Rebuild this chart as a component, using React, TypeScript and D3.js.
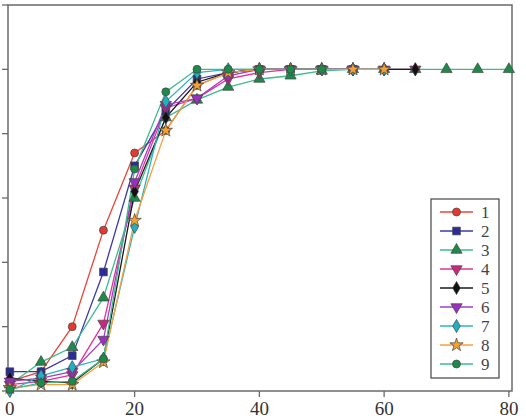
import React, { useEffect, useRef } from "react";
import * as d3 from "d3";

// x positions of samples
const xValues = [0, 5, 10, 15, 20, 25, 30, 35, 40, 45, 50, 55, 60, 65, 70, 75, 80];

const seriesNames = ["1", "2", "3", "4", "5", "6", "7", "8", "9"];

const s1 = [0.03, 0.06, 0.2, 0.5, 0.74, 0.81, 0.95, 0.99, 1.0, 1.0, 1.0, 1.0];
const s2 = [0.06, 0.06, 0.11, 0.37, 0.7, 0.87, 0.97, 0.99, 1.0, 1.0, 1.0, 1.0];
const s3 = [0.02, 0.09, 0.136, 0.29, 0.6, 0.85, 0.905, 0.945, 0.97, 0.98, 0.995, 1.0, 1.0, 1.0, 1.0, 1.0, 1.0];
const s4 = [0.02, 0.03, 0.05, 0.21, 0.63, 0.88, 0.91, 0.97, 0.99, 1.0, 1.0, 1.0, 1.0, 1.0];
const s5 = [0.04, 0.03, 0.025, 0.1, 0.62, 0.85, 0.96, 0.99, 1.0, 1.0, 1.0, 1.0, 1.0, 1.0];
const s6 = [0.03, 0.04, 0.06, 0.16, 0.65, 0.89, 0.91, 0.98, 1.0, 1.0, 1.0, 1.0];
const s7 = [0.0, 0.047, 0.074, 0.1, 0.51, 0.9, 0.99, 1.0, 1.0, 1.0, 1.0, 1.0, 1.0];
const s8 = [0.01, 0.02, 0.02, 0.09, 0.53, 0.81, 0.95, 0.99, 1.0, 1.0, 1.0, 1.0, 1.0];
const s9 = [0.005, 0.025, 0.03, 0.1, 0.69, 0.93, 1.0, 1.0, 1.0, 1.0, 1.0];

const allSeries = [s1, s2, s3, s4, s5, s6, s7, s8, s9];

const xTicks = [0, 20, 40, 60, 80];
const yTicks = [0, 0.2, 0.4, 0.6, 0.8, 1.0, 1.2];

const lineColors = ["#e8463c", "#3a3aa8", "#3dbb8c", "#e0329a", "#1a1a1a", "#a83cc8", "#2bb5c4", "#f5a040", "#3dbb8c"];
const fillColors = ["#e03a32", "#2c2c98", "#1e8a4a", "#c8287e", "#111111", "#9b2fc0", "#20b0c0", "#f5a030", "#1e8a4a"];
const symbols = [d3.symbolCircle, d3.symbolSquare, d3.symbolTriangle, d3.symbolTriangle, d3.symbolDiamond, d3.symbolTriangle, d3.symbolDiamond, d3.symbolStar, d3.symbolCircle];
const flipped = [false, false, false, true, false, true, false, false, false];
const sizes = [50, 60, 55, 55, 50, 55, 50, 55, 50];

export default function App() {
  const ref = useRef<SVGSVGElement>(null);

  useEffect(() => {
    const svg = d3.select(ref.current);
    svg.selectAll("*").remove();

    const left = 8, right = 512, top = 5, bottom = 391;

    const x = d3.scaleLinear().domain([-0.3, 80.5]).range([left, right]);
    const y = d3.scaleLinear().domain([0, 1.2]).range([bottom, top]);

    const axisColor = "#6a6a6a";

    // frame
    svg.append("rect")
      .attr("x", left).attr("y", top)
      .attr("width", right - left).attr("height", bottom - top)
      .attr("fill", "none")
      .attr("stroke", axisColor)
      .attr("stroke-width", 1.5);

    // y ticks (no labels)
    svg.selectAll(".ytick")
      .data(yTicks)
      .join("line")
      .attr("x1", left - 6).attr("x2", left)
      .attr("y1", d => y(d)).attr("y2", d => y(d))
      .attr("stroke", axisColor)
      .attr("stroke-width", 1.3);

    // x ticks
    svg.selectAll(".xtick")
      .data(xTicks)
      .join("line")
      .attr("x1", d => x(d)).attr("x2", d => x(d))
      .attr("y1", bottom).attr("y2", bottom + 6)
      .attr("stroke", axisColor)
      .attr("stroke-width", 1.3);

    svg.selectAll(".xlabel")
      .data(xTicks)
      .join("text")
      .attr("x", d => x(d))
      .attr("y", bottom + 24)
      .attr("text-anchor", "middle")
      .style("font-family", "Liberation Serif, serif")
      .style("font-size", "19px")
      .style("fill", "#333")
      .text(d => d);

    const line = d3.line<number>()
      .x((d, i) => x(xValues[i]))
      .y(d => y(d));

    const markerPath = (i: number) => d3.symbol().type(symbols[i]).size(sizes[i])();

    // lines
    allSeries.forEach((s, i) => {
      svg.append("path")
        .datum(s)
        .attr("fill", "none")
        .attr("stroke", lineColors[i])
        .attr("stroke-width", 1.3)
        .attr("d", line);
    });

    // markers
    allSeries.forEach((s, i) => {
      svg.append("g")
        .selectAll("path")
        .data(s)
        .join("path")
        .attr("d", markerPath(i))
        .attr("transform", (d, j) => `translate(${x(xValues[j])},${y(d)})` + (flipped[i] ? " rotate(180)" : ""))
        .attr("fill", fillColors[i])
        .attr("stroke", "#444")
        .attr("stroke-width", 0.7);
    });

    // legend
    const lg = svg.append("g");
    const lx = 431, ly = 199, lw = 68, lh = 179, step = 19;
    lg.append("rect")
      .attr("x", lx).attr("y", ly)
      .attr("width", lw).attr("height", lh)
      .attr("fill", "white")
      .attr("stroke", "#444")
      .attr("stroke-width", 1.2);

    seriesNames.forEach((name, i) => {
      const cy = ly + 13 + i * step;
      lg.append("line")
        .attr("x1", lx + 9).attr("x2", lx + 42)
        .attr("y1", cy).attr("y2", cy)
        .attr("stroke", lineColors[i])
        .attr("stroke-width", 1.3);
      lg.append("path")
        .attr("d", markerPath(i))
        .attr("transform", `translate(${lx + 25.5},${cy})` + (flipped[i] ? " rotate(180)" : ""))
        .attr("fill", fillColors[i])
        .attr("stroke", "#444")
        .attr("stroke-width", 0.7);
      lg.append("text")
        .attr("x", lx + 50)
        .attr("y", cy + 6)
        .style("font-family", "Liberation Serif, serif")
        .style("font-size", "17px")
        .style("fill", "#444")
        .text(name);
    });
  }, []);

  return (
    <svg
      ref={ref}
      width={526}
      height={416}
      style={{ position: "absolute", left: 0, top: 0, background: "white" }}
    />
  );
}
